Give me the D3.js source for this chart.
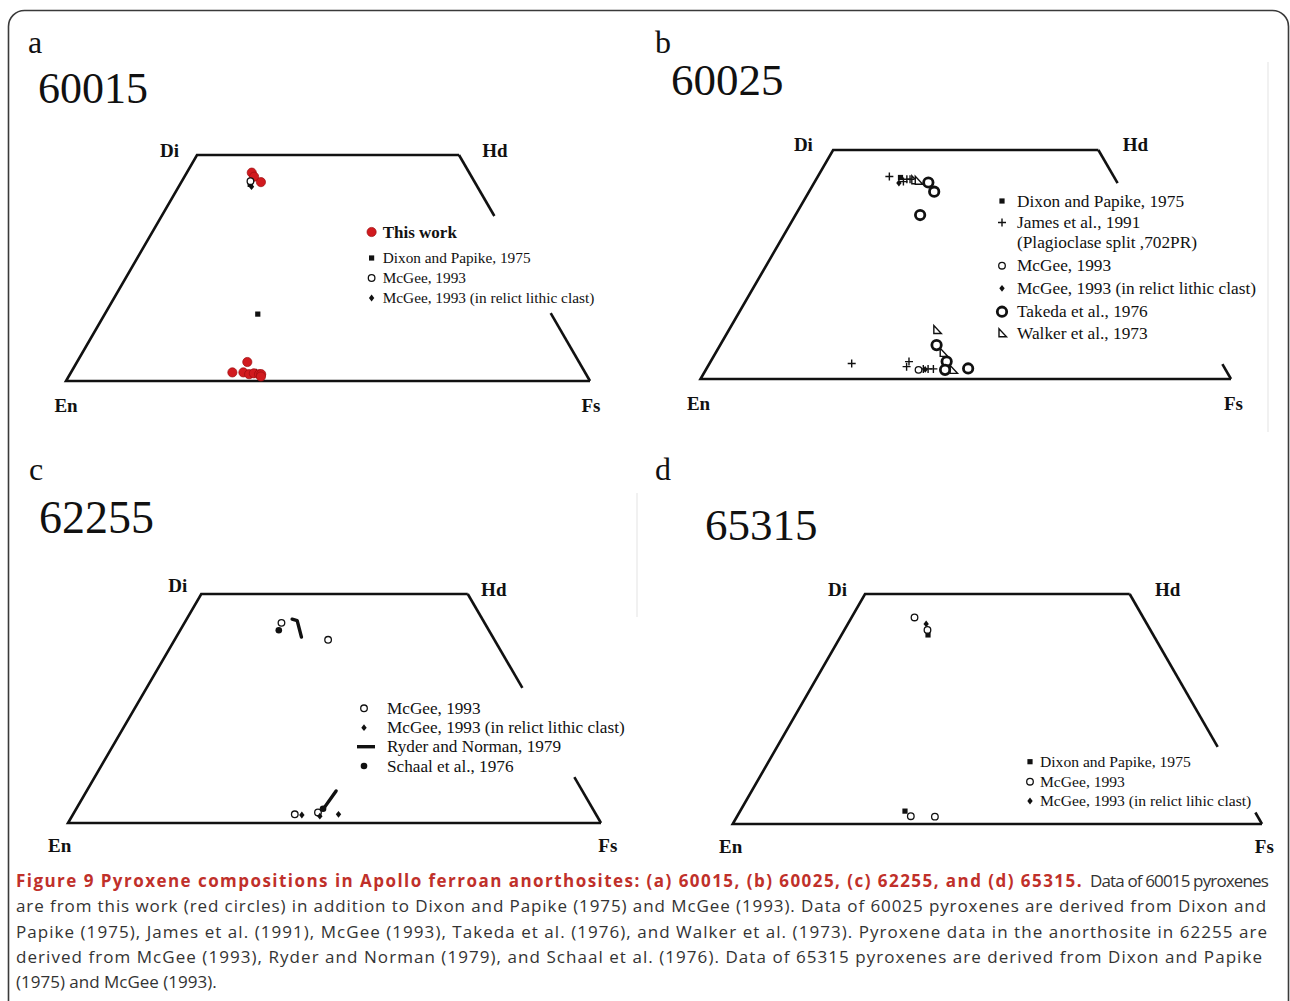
<!DOCTYPE html>
<html>
<head>
<meta charset="utf-8">
<script src="https://cdn.jsdelivr.net/npm/d3@7"></script>
<style>
  body { margin: 0; background: #fff; }
  svg { display: block; }
</style>
</head>
<body>
<svg id="fig" width="1290" height="1001"></svg>
<script>
// Pyroxene compositions, each point as [Wo, Fs] in mole % (En = 100 - Wo - Fs)

// (a) 60015
const a_thisWork   = [[46.1,12.4],[45.2,13.3],[44.0,15.2],[4.2,32.5],[1.9,30.8],[1.9,32.9],[1.5,34.2],[1.7,35.0],[1.5,36.1],[1.5,36.5],[1.0,36.7]];
const a_dixon      = [[43.5,13.4],[14.8,29.2],[1.8,35.6]];
const a_mcgee      = [[44.2,13.1]];
const a_mcgeeClast = [[43.0,13.9],[2.0,35.3]];

// (b) 60025
const b_dixon      = [[44.0,15.7]];
const b_james      = [[44.2,13.5],[43.1,16.7],[43.6,17.1],[43.6,17.7],[3.4,26.8],[2.7,37.5],[3.8,37.4],[2.2,40.9],[2.2,41.8],[2.2,42.8]];
const b_mcgee      = [[2.0,40.1]];
const b_mcgeeClast = [[42.8,16.0],[2.1,41.3]];
const b_takeda     = [[42.9,21.5],[40.9,23.6],[35.8,23.5],[7.4,40.8],[3.8,44.5],[2.0,45.1],[2.3,49.3]];
const b_walker     = [[43.4,18.7],[43.3,19.4],[10.7,39.2],[5.7,42.9],[2.0,46.6]];

// (c) 62255
const c_mcgee      = [[43.7,18.2],[40.0,28.8],[1.9,41.6],[2.3,45.75]];
const c_mcgeeClast = [[1.75,43.0],[1.5,46.5],[1.9,49.8]];
const c_ryder      = [[[44.5,19.8],[44.2,20.9],[40.6,23.5]], [[3.3,46.4],[7.0,46.8]]];
const c_schaal     = [[42.1,18.5],[3.1,46.3]];

// (d) 65315
const d_dixon      = [[41.1,16.35],[2.8,31.15]];
const d_mcgee      = [[44.9,11.9],[42.2,15.7],[1.7,32.8],[1.6,37.4]];
const d_mcgeeClast = [[43.5,14.8]];

// End-member labels and legend texts
const cornerNames = ["Di", "Hd", "En", "Fs"];
const a_legendLabels = ["This work", "Dixon and Papike, 1975", "McGee, 1993", "McGee, 1993 (in relict lithic clast)"];
const b_legendLabels = ["Dixon and Papike, 1975", "James et al., 1991", "(Plagioclase split ,702PR)", "McGee, 1993", "McGee, 1993 (in relict lithic clast)", "Takeda et al., 1976", "Walker et al., 1973"];
const c_legendLabels = ["McGee, 1993", "McGee, 1993 (in relict lithic clast)", "Ryder and Norman, 1979", "Schaal et al., 1976"];
const d_legendLabels = ["Dixon and Papike, 1975", "McGee, 1993", "McGee, 1993 (in relict lihic clast)"];

const captionBold = "Figure 9 Pyroxene compositions in Apollo ferroan anorthosites: (a) 60015, (b) 60025, (c) 62255, and (d) 65315.";
const captionLines = [
  "Data of 60015 pyroxenes",
  "are from this work (red circles) in addition to Dixon and Papike (1975) and McGee (1993). Data of 60025 pyroxenes are derived from Dixon and",
  "Papike (1975), James et al. (1991), McGee (1993), Takeda et al. (1976), and Walker et al. (1973). Pyroxene data in the anorthosite in 62255 are",
  "derived from McGee (1993), Ryder and Norman (1979), and Schaal et al. (1976). Data of 65315 pyroxenes are derived from Dixon and Papike",
  "(1975) and McGee (1993)."
];

// ---------------------------------------------------------------------------
const SERIF = "'Liberation Serif', 'Times New Roman', serif";
const svg = d3.select("#fig");

// rounded figure frame
svg.append("rect")
  .attr("x", 8.5).attr("y", 10.5).attr("width", 1280).attr("height", 1100)
  .attr("rx", 16).attr("fill", "none").attr("stroke", "#3a3a3a").attr("stroke-width", 1.6);

// faint sub-image edges
[[1268, 62, 1268, 432], [637, 493, 637, 617]].forEach(([x1, y1, x2, y2]) =>
  svg.append("line").attr("x1", x1).attr("y1", y1).attr("x2", x2).attr("y2", y2)
    .attr("stroke", "#ececec").attr("stroke-width", 1.5));

function drawSymbol(g, sym, x, y) {
  const ink = "#111";
  switch (sym) {
    case "red":
      g.append("circle").attr("cx", x).attr("cy", y).attr("r", 4.6)
        .attr("fill", "#d11a1e").attr("stroke", "#9b0d10").attr("stroke-width", 0.7); break;
    case "square":
      g.append("rect").attr("x", x - 2.6).attr("y", y - 2.6).attr("width", 5.2).attr("height", 5.2).attr("fill", ink); break;
    case "plus":
      g.append("path").attr("d", `M${x-4},${y}H${x+4}M${x},${y-4}V${y+4}`).attr("stroke", ink).attr("stroke-width", 1.4); break;
    case "circle":
      g.append("circle").attr("cx", x).attr("cy", y).attr("r", 3.3)
        .attr("fill", "#fff").attr("stroke", ink).attr("stroke-width", 1.3); break;
    case "diamond":
      g.append("path").attr("d", `M${x},${y-3.4}L${x+2.7},${y}L${x},${y+3.4}L${x-2.7},${y}Z`).attr("fill", ink); break;
    case "takeda":
      g.append("circle").attr("cx", x).attr("cy", y).attr("r", 4.7)
        .attr("fill", "#fff").attr("stroke", ink).attr("stroke-width", 2.8); break;
    case "walker":
      g.append("path").attr("d", `M${x-3},${y-4.5}L${x-3},${y+3.5}L${x+4.5},${y+3.5}Z`)
        .attr("fill", "#fff").attr("stroke", ink).attr("stroke-width", 1.4).attr("stroke-linejoin", "miter"); break;
    case "dot":
      g.append("circle").attr("cx", x).attr("cy", y).attr("r", 3.3).attr("fill", ink); break;
    case "bar":
      g.append("line").attr("x1", x - 9).attr("x2", x + 9).attr("y1", y).attr("y2", y)
        .attr("stroke", ink).attr("stroke-width", 3.4); break;
  }
}

const panels = [
  {
    letter: "a", sample: "60015", letterXY: [28, 53], sampleXY: [38, 103], sampleSize: 44,
    geom: { x0: 66, x1: 590, yb: 381, yt: 155 }, rightSide: [[0, 0.27], [0.70, 1]],
    cornerXY: [[169.5, 150], [495, 150], [66, 405], [591, 405]],
    series: [
      { sym: "square", data: a_dixon }, { sym: "diamond", data: a_mcgeeClast },
      { sym: "red", data: a_thisWork }, { sym: "circle", data: a_mcgee }
    ],
    legend: { mx: 371.6, tx: 382.7, size: 15.3, labels: a_legendLabels,
      rows: [{ sym: "red", y: 232, bold: true, size: 17 }, { sym: "square", y: 258 }, { sym: "circle", y: 278 }, { sym: "diamond", y: 298 }] }
  },
  {
    letter: "b", sample: "60025", letterXY: [655, 53], sampleXY: [671, 95], sampleSize: 45,
    geom: { x0: 700.5, x1: 1231, yb: 379, yt: 150 }, rightSide: [[0, 0.145], [0.935, 1]],
    cornerXY: [[803.4, 144], [1135.5, 144], [698.5, 403], [1233.5, 403]],
    series: [
      { sym: "walker", data: b_walker }, { sym: "takeda", data: b_takeda },
      { sym: "plus", data: b_james }, { sym: "square", data: b_dixon },
      { sym: "circle", data: b_mcgee }, { sym: "diamond", data: b_mcgeeClast }
    ],
    legend: { mx: 1002, tx: 1017, size: 17.3, labels: b_legendLabels,
      rows: [{ sym: "square", y: 201 }, { sym: "plus", y: 222.5 }, { sym: null, y: 242.5 }, { sym: "circle", y: 265.7 },
             { sym: "diamond", y: 288.3 }, { sym: "takeda", y: 311.7 }, { sym: "walker", y: 333.3 }] }
  },
  {
    letter: "c", sample: "62255", letterXY: [29, 480], sampleXY: [39, 533], sampleSize: 46,
    geom: { x0: 68, x1: 601, yb: 823, yt: 594 }, rightSide: [[0, 0.41], [0.80, 1]],
    cornerXY: [[177.8, 585.7], [493.8, 589.3], [59.7, 845], [607.8, 845]],
    series: [
      { sym: "circle", data: c_mcgee }, { sym: "diamond", data: c_mcgeeClast },
      { sym: "dot", data: c_schaal }, { sym: "lines", data: c_ryder }
    ],
    legend: { mx: 364, tx: 387, size: 17.2, labels: c_legendLabels,
      rows: [{ sym: "circle", y: 708.3 }, { sym: "diamond", y: 727.7 }, { sym: "bar", y: 746.7, mx: 366 }, { sym: "dot", y: 766 }] }
  },
  {
    letter: "d", sample: "65315", letterXY: [655, 480], sampleXY: [705, 540], sampleSize: 45,
    geom: { x0: 732.7, x1: 1262, yb: 824, yt: 594 }, rightSide: [[0, 0.665], [0.95, 1]],
    cornerXY: [[837.6, 589.3], [1167.6, 589.3], [730.6, 846.7], [1264.3, 846.7]],
    series: [
      { sym: "square", data: d_dixon }, { sym: "diamond", data: d_mcgeeClast }, { sym: "circle", data: d_mcgee }
    ],
    legend: { mx: 1030, tx: 1040, size: 15.6, labels: d_legendLabels,
      rows: [{ sym: "square", y: 761.7 }, { sym: "circle", y: 781.7 }, { sym: "diamond", y: 801 }] }
  }
];

panels.forEach(p => {
  const g = svg.append("g");
  const { x0, x1, yb, yt } = p.geom;
  // horizontal position: Fs + Wo/2 along the En–Fs join; vertical: Wo (0–50)
  const x = d3.scaleLinear().domain([0, 100]).range([x0, x1]);
  const y = d3.scaleLinear().domain([0, 50]).range([yb, yt]);
  const px = d => x(d[1] + d[0] / 2);
  const py = d => y(d[0]);

  // panel letter and sample number
  g.append("text").attr("x", p.letterXY[0]).attr("y", p.letterXY[1])
    .attr("font-family", SERIF).attr("font-size", 32).attr("fill", "#111").text(p.letter);
  g.append("text").attr("x", p.sampleXY[0]).attr("y", p.sampleXY[1])
    .attr("font-family", SERIF).attr("font-size", p.sampleSize).attr("fill", "#111").text(p.sample);

  // quadrilateral outline
  const Di = [50, 0], Hd = [50, 50], En = [0, 0], Fs = [0, 100];
  const line = d3.line().x(px).y(py);
  g.append("path").attr("d", line([Hd, Di, En, Fs]))
    .attr("fill", "none").attr("stroke", "#111").attr("stroke-width", 2.6).attr("stroke-linejoin", "miter");
  p.rightSide.forEach(([t0, t1]) => {
    const lerp = t => [Hd[0] + (Fs[0] - Hd[0]) * t, Hd[1] + (Fs[1] - Hd[1]) * t];
    g.append("path").attr("d", line([lerp(t0), lerp(t1)]))
      .attr("fill", "none").attr("stroke", "#111").attr("stroke-width", 2.6);
  });

  // end-member labels
  cornerNames.forEach((name, i) => {
    g.append("text").attr("x", p.cornerXY[i][0]).attr("y", p.cornerXY[i][1]).attr("dy", "0.35em")
      .attr("text-anchor", "middle").attr("font-family", SERIF).attr("font-weight", "bold")
      .attr("font-size", 19).attr("fill", "#111").text(name);
  });

  // data
  p.series.forEach(s => {
    if (s.sym === "lines") {
      s.data.forEach(seg => g.append("path").attr("d", line(seg)).attr("fill", "none")
        .attr("stroke", "#111").attr("stroke-width", 3.4).attr("stroke-linecap", "round").attr("stroke-linejoin", "round"));
    } else {
      s.data.forEach(d => drawSymbol(g, s.sym, px(d), py(d)));
    }
  });

  // legend
  const L = p.legend;
  L.rows.forEach((r, i) => {
    if (r.sym) drawSymbol(g, r.sym, r.mx || L.mx, r.y);
    g.append("text").attr("x", L.tx).attr("y", r.y).attr("dy", "0.33em")
      .attr("font-family", SERIF).attr("font-size", r.size || L.size)
      .attr("font-weight", r.bold ? "bold" : "normal").attr("fill", "#111").text(L.labels[i]);
  });
});

// caption: each run is spaced out to fill its measured extent
const cap = svg.append("g").attr("font-family", "'Open Sans', 'Noto Sans', sans-serif").attr("font-size", 17);
function fitRun(el, str, width) {
  const natural = el.node().getComputedTextLength();
  el.attr("letter-spacing", ((width - natural) / Math.max(1, str.length)).toFixed(3));
}
const capRight = [1268, 1267, 1268, 1263, null];
captionLines.forEach((txt, i) => {
  const y = 887 + i * 25.3;
  if (i === 0) {
    const tb = cap.append("text").attr("x", 16).attr("y", y).attr("font-weight", "bold")
      .attr("fill", "#c0302a").text(captionBold);
    fitRun(tb, captionBold, 1083 - 16);
    const tr = cap.append("text").attr("x", 1090).attr("y", y).attr("fill", "#333").text(txt);
    fitRun(tr, txt, capRight[0] - 1090);
  } else {
    const t = cap.append("text").attr("x", 16).attr("y", y).attr("fill", "#333").text(txt);
    if (capRight[i]) fitRun(t, txt, capRight[i] - 16);
  }
});
</script>
</body>
</html>
